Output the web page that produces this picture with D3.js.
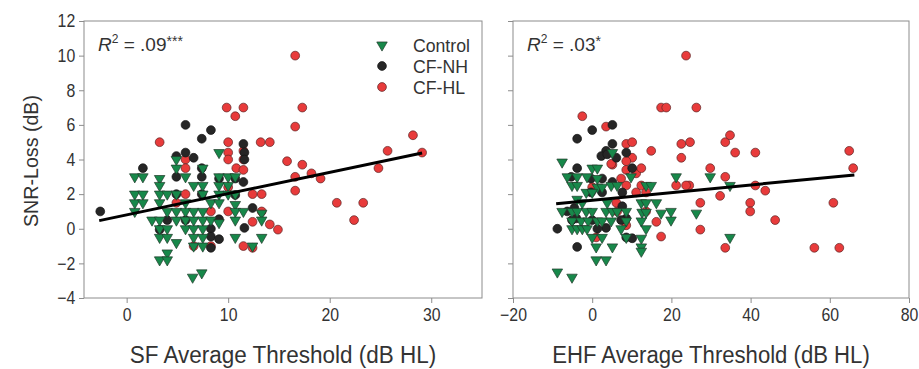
<!DOCTYPE html>
<html>
<head>
<meta charset="utf-8">
<script src="https://cdn.jsdelivr.net/npm/d3@7"></script>
<style>
  body { margin: 0; background: #fff; }
  svg text { font-family: "Liberation Sans", Arial, sans-serif; fill: #333; }
</style>
</head>
<body>
<div id="chart"></div>
<script>
// SF panel: [threshold, SNR-loss]
const sfControl = [
  [9.1,4.4],[4.9,4.0],[4.9,3.5],[7.5,3.5],
  [0.8,3.0],[1.6,3.0],[3.25,2.9],[5.8,3.0],[9.1,3.0],[10.0,3.0],[10.7,3.0],
  [3.25,2.5],[6.6,2.5],[7.5,2.5],[9.1,2.5],[10.0,2.5],
  [0.8,2.0],[1.6,2.0],[3.25,2.0],[4.0,2.0],[4.9,2.0],[7.5,2.0],[9.1,2.0],[10.0,2.0],[10.7,2.0],
  [0.8,1.5],[1.6,1.5],[3.25,1.5],[5.8,1.5],[8.3,1.5],[9.1,1.5],[10.7,1.4],
  [0.8,1.0],[4.0,1.0],[4.9,1.0],[5.8,1.0],[6.6,1.0],[7.5,1.0],[10.7,1.0],[11.5,1.0],[13.3,0.9],
  [2.5,0.5],[3.25,0.5],[4.9,0.5],[5.8,0.5],[6.6,0.5],[7.5,0.5],[8.3,0.5],[9.1,0.35],[10.7,0.5],[13.3,0.5],
  [3.25,0.0],[4.0,0.0],[5.8,0.0],[6.6,0.0],[7.5,0.0],
  [3.25,-0.5],[4.0,-0.5],[6.6,-0.5],[7.5,-0.5],[10.7,-0.5],[13.3,-0.5],
  [4.9,-0.8],[6.6,-1.0],[7.5,-1.0],[12.4,-1.0],[4.0,-1.4],[3.25,-1.8],[4.0,-1.8],
  [7.4,-2.55],[6.5,-2.8]
];
const sfCFNH = [
  [5.8,6.0],[7.4,5.2],[8.3,5.7],[11.5,4.9],[4.9,4.2],[5.8,4.4],[6.6,4.1],[11.6,4.4],[11.6,4.0],
  [4.9,3.0],[7.4,3.5],[7.4,3.0],[11.5,2.7],[10.7,2.9],[9.1,2.9],[7.4,2.0],[4.9,2.0],[1.6,3.5],
  [-2.6,1.0],[4.0,0.5],[3.25,-0.05],[5.8,0.5],[8.3,0.0],[8.3,-0.45],[9.1,-0.6],[8.3,-1.1],
  [12.4,1.2],[11.6,0.05],[10.7,1.95],[9.1,0.55]
];
const sfCFHL = [
  [3.25,5.0],[9.85,7.0],[10.7,6.5],[11.5,7.0],[10.0,5.0],[10.0,4.4],[10.0,4.0],[11.5,4.5],[11.5,4.0],
  [13.2,5.0],[14.1,5.0],[16.6,10.0],[17.3,7.0],[16.6,5.9],[28.2,5.4],[25.7,4.5],[29.1,4.4],
  [15.8,3.9],[17.3,3.7],[16.6,3.0],[18.2,3.2],[19.1,2.9],[16.6,2.2],[20.7,1.5],[23.3,1.5],
  [22.4,0.5],[24.8,3.5],[13.3,2.0],[12.4,2.0],[14.1,0.25],[14.9,-0.05],[13.3,1.0],[5.8,4.0],
  [5.8,3.5],[10.8,3.5],[11.5,3.4],[10.0,2.4],[5.8,2.0],[4.9,1.5],[8.3,1.0],[10.0,1.0],[12.4,0.4],
  [6.6,-1.0],[8.3,-1.0],[11.5,-1.0],[12.4,-1.1]
];
// EHF panel
const ehfControl = [
  [-7.6,3.85],[-6.3,3.0],[-3.8,3.0],[-5.1,2.5],[-3.8,2.5],[0,3.5],[1.3,3.5],[-1.3,3.0],[1.3,2.9],
  [1.3,2.4],[2.5,2.4],[4.8,2.5],[6.3,2.5],[9.8,3.0],[13.6,2.5],[14.9,2.5],[21.2,3.0],[-1.5,2.1],
  [0,2.1],[-3.8,1.7],[-7.6,1.0],[-5.1,1.0],[-3.8,1.0],[-1.5,1.0],[0,1.0],[3.5,1.0],[5.1,1.0],
  [6.3,1.0],[8.6,1.0],[12.4,1.5],[13.6,1.5],[16.2,1.5],[12.6,0.95],[13.6,0.95],[17.4,0.9],
  [19.9,1.0],[26.3,0.9],[-5.1,0.45],[-2.8,0.45],[-1.0,0.45],[1.3,0.45],[2.5,0.45],[4.8,0.45],
  [8.6,0.45],[12.4,0.45],[19.9,0.5],[-5.1,0],[-3.8,0],[-2.5,0],[-1.3,0],[7.3,0],[13.6,0],
  [0,-0.5],[2.5,-0.5],[8.6,-0.5],[12.4,-0.55],[1.0,-1.05],[5.1,-1.05],[12.4,-1.05],[12.4,-1.3],
  [1.0,-1.8],[3.5,-1.8],[-8.8,-2.5],[-5.1,-2.8],[29.8,3.0],[34.8,2.5],[34.8,-0.5],[5.1,4.4],
  [-2.5,1.5],[3.8,1.5]
];
const ehfCFNH = [
  [-3.8,5.2],[0,5.7],[5.1,6.0],[5.1,4.9],[3.5,4.5],[2.3,4.2],[8.6,4.4],[6.1,4.1],[-3.8,3.5],
  [10.1,3.5],[-5.3,3.0],[2.5,2.9],[5.1,2.7],[-0.3,2.9],[7.6,2.1],[-0.3,2.1],[7.6,1.3],[-6.3,1.0],
  [-8.8,0],[-3.8,-1.05],[3.5,0.05],[1.3,0],[8.6,0.6],[8.6,-0.5],[10.1,-0.55],[7.3,0.5],[0,0.5],
  [-5.1,0.5],[-4.0,0.6],[-4.5,1.2],[2.5,2.1],[3.8,4.3]
];
const ehfCFHL = [
  [23.7,10.0],[17.4,7.0],[18.7,7.0],[26.3,7.0],[-2.5,6.5],[3.5,5.9],[8.6,4.9],[10.1,5.0],[14.9,4.5],
  [22.5,4.9],[24.7,5.0],[22.5,4.1],[10.1,4.1],[33.6,5.0],[34.8,5.4],[36.1,4.4],[41.2,4.4],[64.9,4.5],
  [65.9,3.5],[29.8,3.5],[33.6,3.0],[41.2,2.5],[43.7,2.2],[32.3,1.9],[27.3,1.5],[39.9,1.5],[39.9,1.0],
  [46.2,0.5],[60.9,1.5],[27.3,-0.05],[33.6,-1.1],[56.1,-1.1],[62.4,-1.1],[24.5,2.5],[5.1,3.7],
  [8.6,3.9],[11.1,3.2],[12.4,3.5],[8.6,2.5],[7.3,2.9],[12.4,2.5],[21.2,2.5],[23.7,2.5],[11.1,2.1],
  [13.6,2.1],[0,2.4],[13.6,1.0],[6.3,1.0],[16.2,0.4],[8.6,0.2],[17.4,-0.45],[1.0,-0.5],[6.1,1.5],
  [8.6,3.4],[4.8,3.75]
];
// regression line end points
const sfFit = [[-2.7, 0.47], [29.1, 4.38]];
const ehfFit = [[-9.1, 1.44], [66.2, 3.11]];

const yTicks = [-4, -2, 0, 2, 4, 6, 8, 10, 12];
const sfTicks = [0, 10, 20, 30];
const ehfTicks = [-20, 0, 20, 40, 60, 80];
const groups = ["Control", "CF-NH", "CF-HL"];

const W = 919, H = 369;
const plotTop = 21, plotBottom = 298;

const svg = d3.select("#chart").append("svg")
  .attr("width", W)
  .attr("height", H);

const y = d3.scaleLinear().domain([-4, 12]).range([plotBottom, plotTop]);

const fills = { "Control": "#17884a", "CF-NH": "#262626", "CF-HL": "#e83b3b" };
const strokes = { "Control": "#1f3a2a", "CF-NH": "#141414", "CF-HL": "#5c2424" };
const tri = d3.symbol().type(d3.symbolTriangle).size(48);

function drawMarks(g, data, grp, x) {
  if (grp === "Control") {
    g.selectAll(null).data(data).enter().append("path")
      .attr("d", tri)
      .attr("transform", d => `translate(${x(d[0])},${y(d[1])}) rotate(180)`)
      .attr("fill", fills[grp]).attr("stroke", strokes[grp]).attr("stroke-width", 0.7);
  } else {
    g.selectAll(null).data(data).enter().append("circle")
      .attr("cx", d => x(d[0])).attr("cy", d => y(d[1])).attr("r", 4.4)
      .attr("fill", fills[grp]).attr("stroke", strokes[grp]).attr("stroke-width", 0.7);
  }
}

const minus = d => d < 0 ? "\u2212" + Math.abs(d) : d;

function panel(x0, x1, domain, ticks, sets, fit, title, r2, showYLabels) {
  const x = d3.scaleLinear().domain(domain).range([x0, x1]);
  const g = svg.append("g");

  // frame
  g.append("rect")
    .attr("x", x0).attr("y", plotTop).attr("width", x1 - x0).attr("height", plotBottom - plotTop)
    .attr("fill", "none").attr("stroke", "#8c8c8c").attr("stroke-width", 1);

  const xAxis = g.append("g").attr("transform", `translate(0,${plotBottom})`)
    .call(d3.axisBottom(x).tickValues(ticks).tickSize(5).tickPadding(5).tickFormat(minus));
  xAxis.select(".domain").remove();
  xAxis.selectAll("line").attr("stroke", "#8c8c8c");
  xAxis.selectAll("text").style("font-size", "18px").attr("fill", "#333")
    .attr("transform", "scale(0.88,1)");

  const yAxis = g.append("g").attr("transform", `translate(${x0},0)`)
    .call(d3.axisLeft(y).tickValues(yTicks).tickSize(5).tickPadding(5)
      .tickFormat(d => showYLabels ? minus(d) : ""));
  yAxis.select(".domain").remove();
  yAxis.selectAll("line").attr("stroke", "#8c8c8c");
  yAxis.selectAll("text").style("font-size", "18px").attr("fill", "#333")
    .attr("transform", "scale(0.88,1)");

  const marks = g.append("g");
  drawMarks(marks, sets[2], "CF-HL", x);
  drawMarks(marks, sets[1], "CF-NH", x);
  drawMarks(marks, sets[0], "Control", x);

  g.append("path")
    .datum(fit)
    .attr("d", d3.line().x(d => x(d[0])).y(d => y(d[1])))
    .attr("stroke", "#000").attr("stroke-width", 3).attr("fill", "none");

  g.append("text")
    .attr("x", (x0 + x1) / 2).attr("y", 363)
    .attr("text-anchor", "middle").style("font-size", "23px")
    .attr("textLength", title.length * 10.95).attr("lengthAdjust", "spacingAndGlyphs")
    .text(title);

  const t = g.append("text").attr("x", x0 + 14).attr("y", 51).style("font-size", "19px");
  t.append("tspan").attr("font-style", "italic").text("R");
  t.append("tspan").attr("dy", -8).style("font-size", "12px").text("2");
  t.append("tspan").attr("dy", 8).text(" = " + r2[0]);
  t.append("tspan").attr("dy", -5).style("font-size", "14px").text(r2[1]);
  return x;
}

panel(84, 482, [-4.2, 35], sfTicks, [sfControl, sfCFNH, sfCFHL], sfFit,
  "SF Average Threshold (dB HL)", [".09", "***"], true);
panel(513, 909, [-20, 80], ehfTicks, [ehfControl, ehfCFNH, ehfCFHL], ehfFit,
  "EHF Average Threshold (dB HL)", [".03", "*"], false);

svg.append("text")
  .attr("transform", "translate(38,161) rotate(-90)")
  .attr("text-anchor", "middle").style("font-size", "21px")
  .attr("textLength", 132).attr("lengthAdjust", "spacingAndGlyphs")
  .text("SNR-Loss (dB)");

// legend
const legend = svg.append("g").attr("transform", "translate(382,45)");
groups.forEach((grp, i) => {
  const row = legend.append("g").attr("transform", `translate(0,${i * 21})`);
  if (grp === "Control") {
    row.append("path").attr("d", tri).attr("transform", "rotate(180)")
      .attr("fill", fills[grp]).attr("stroke", strokes[grp]).attr("stroke-width", 0.7);
  } else {
    row.append("circle").attr("r", 4.4)
      .attr("fill", fills[grp]).attr("stroke", strokes[grp]).attr("stroke-width", 0.7);
  }
  row.append("text").attr("x", 31).attr("y", 7).style("font-size", "19px")
    .attr("transform", "translate(31,0) scale(0.93,1) translate(-31,0)")
    .text(grp);
});
</script>
</body>
</html>
